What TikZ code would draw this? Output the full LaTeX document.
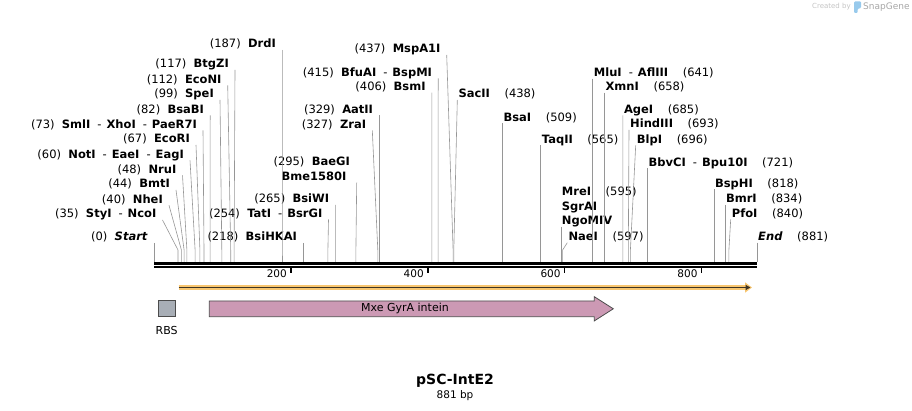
\documentclass[tikz,border=0pt]{standalone}
\usepackage{fontspec}
\setmainfont{DejaVu Sans}
\usetikzlibrary{arrows.meta, positioning}

\definecolor{cutgray}{RGB}{150,150,150}
\definecolor{orflight}{RGB}{248,198,112}
\definecolor{orfdark}{RGB}{62,52,36}
\definecolor{inteinpink}{RGB}{204,153,180}
\definecolor{rbsgray}{RGB}{168,174,182}
\definecolor{markgray}{RGB}{196,196,196}
\definecolor{markblue}{RGB}{152,202,236}

\newcommand{\enzsep}{\hspace{7pt}-\hspace{5pt}}

\begin{document}
\begin{tikzpicture}[
    x=1pt, y=-1pt,
    every node/.style={inner sep=0pt},
    lab/.style={font=\fontsize{11.5}{13}\selectfont},
    leftlab/.style={lab, anchor=base east},
    rightlab/.style={lab, anchor=base west},
    cut/.style={draw=cutgray, line width=0.6pt},
    seq/.style={line width=2.6pt},
    tick/.style={line width=1.4pt},
    ticklab/.style={font=\fontsize{10.5}{12}\selectfont, anchor=east}
]
\useasboundingbox (0,0) rectangle (912,411);

% ------------------------
% Watermark (top right)
% ------------------------
\node[anchor=west, text=markgray, font=\fontsize{7}{8}\selectfont] (made) at (812,7) {Created by};
\fill[markblue, rounded corners=1pt] (854,13) -- (854,1.5) -- (861,1.5) -- (861,8) -- (857.5,9) -- (857.5,13) -- cycle;
\node[anchor=west, text=markgray!85!black, font=\fontsize{9}{10}\selectfont] (snap) at (863,7) {SnapGene};

% ------------------------
% Sequence line and ruler
% ------------------------
\coordinate (s0) at (154,263.5);
\coordinate (s1) at (757,263.5);
\draw[seq] (s0) -- (s1);
\draw[seq] ([yshift=-3.7pt]s0) -- ([yshift=-3.7pt]s1);

\coordinate (t200) at (290.9,268.5);
\coordinate (t400) at (427.8,268.5);
\coordinate (t600) at (564.7,268.5);
\coordinate (t800) at (701.6,268.5);
\draw[tick] (t200) -- ++(0,5);
\draw[tick] (t400) -- ++(0,5);
\draw[tick] (t600) -- ++(0,5);
\draw[tick] (t800) -- ++(0,5);
\node[ticklab] (r200) at (287,273.5) {200};
\node[ticklab] (r400) at (423.9,273.5) {400};
\node[ticklab] (r600) at (560.8,273.5) {600};
\node[ticklab] (r800) at (697.7,273.5) {800};

% ------------------------
% Cut sites on the top strand
% ------------------------
\coordinate (c0) at (154,262);
\coordinate (c35) at (178,262);
\coordinate (c40) at (181.4,262);
\coordinate (c44) at (184.1,262);
\coordinate (c48) at (186.9,262);
\coordinate (c60) at (195.1,262);
\coordinate (c67) at (199.9,262);
\coordinate (c73) at (204,262);
\coordinate (c82) at (210.1,262);
\coordinate (c99) at (221.8,262);
\coordinate (c112) at (230.7,262);
\coordinate (c117) at (234.1,262);
\coordinate (c187) at (282,262);
\coordinate (c218) at (303.2,262);
\coordinate (c254) at (327.9,262);
\coordinate (c265) at (335.4,262);
\coordinate (c295) at (355.9,262);
\coordinate (c327) at (377.8,262);
\coordinate (c329) at (379.2,262);
\coordinate (c406) at (431.9,262);
\coordinate (c415) at (438.1,262);
\coordinate (c437) at (453.1,262);
\coordinate (c438) at (453.8,262);
\coordinate (c509) at (502.4,262);
\coordinate (c565) at (540.7,262);
\coordinate (c595) at (561.2,262);
\coordinate (c597) at (562.6,262);
\coordinate (c641) at (592.7,262);
\coordinate (c658) at (604.4,262);
\coordinate (c685) at (622.9,262);
\coordinate (c693) at (628.3,262);
\coordinate (c696) at (630.4,262);
\coordinate (c721) at (647.5,262);
\coordinate (c818) at (713.9,262);
\coordinate (c834) at (724.8,262);
\coordinate (c840) at (728.9,262);
\coordinate (c881) at (757,262);

% ------------------------
% Enzymes, labels on the left
% ------------------------
\node[leftlab] (start) at (148,241) {(0)~~\textbf{\textit{Start}}};
\node[leftlab] (styi) at (156.5,218) {(35)~~\textbf{StyI}\enzsep\textbf{NcoI}};
\node[leftlab] (nhei) at (163,203.3) {(40)~~\textbf{NheI}};
\node[leftlab] (bmti) at (170,188) {(44)~~\textbf{BmtI}};
\node[leftlab] (nrui) at (176.5,173.3) {(48)~~\textbf{NruI}};
\node[leftlab] (noti) at (184,158.3) {(60)~~\textbf{NotI}\enzsep\textbf{EaeI}\enzsep\textbf{EagI}};
\node[leftlab] (ecori) at (190,143) {(67)~~\textbf{EcoRI}};
\node[leftlab] (smli) at (197,128.3) {(73)~~\textbf{SmlI}\enzsep\textbf{XhoI}\enzsep\textbf{PaeR7I}};
\node[leftlab] (bsabi) at (204.2,113.3) {(82)~~\textbf{BsaBI}};
\node[leftlab] (spei) at (214,98) {(99)~~\textbf{SpeI}};
\node[leftlab] (econi) at (221.7,83.3) {(112)~~\textbf{EcoNI}};
\node[leftlab] (btgzi) at (229,68) {(117)~~\textbf{BtgZI}};
\node[leftlab] (drdi) at (276,48) {(187)~~\textbf{DrdI}};
\node[leftlab] (bsihkai) at (297.2,241) {(218)~~\textbf{BsiHKAI}};
\node[leftlab] (tati) at (322.5,217.5) {(254)~~\textbf{TatI}\enzsep\textbf{BsrGI}};
\node[leftlab] (bsiwi) at (329.3,203) {(265)~~\textbf{BsiWI}};
\node[leftlab] (baegi) at (350,165.7) {(295)~~\textbf{BaeGI}};
\node[leftlab] (bme) at (346.7,180.7) {\textbf{Bme1580I}};
\node[leftlab] (zrai) at (366.3,128.3) {(327)~~\textbf{ZraI}};
\node[leftlab] (aatii) at (373.2,113.3) {(329)~~\textbf{AatII}};
\node[leftlab] (bsmi) at (425.8,90.7) {(406)~~\textbf{BsmI}};
\node[leftlab] (bfuai) at (432.2,76.3) {(415)~~\textbf{BfuAI}\enzsep\textbf{BspMI}};
\node[leftlab] (mspa) at (440.7,53) {(437)~~\textbf{MspA1I}};

\draw[cut] ([shift={(6,2)}]start.base east) -- (c0);
\draw[cut] ([shift={(6,2)}]styi.base east) -- ([yshift=12pt]c35) -- (c35);
\draw[cut] ([shift={(6,2)}]nhei.base east) -- ([yshift=12pt]c40) -- (c40);
\draw[cut] ([shift={(6,2)}]bmti.base east) -- ([yshift=12pt]c44) -- (c44);
\draw[cut] ([shift={(6,2)}]nrui.base east) -- ([yshift=12pt]c48) -- (c48);
\draw[cut] ([shift={(6,2)}]noti.base east) -- ([yshift=12pt]c60) -- (c60);
\draw[cut] ([shift={(6,2)}]ecori.base east) -- ([yshift=12pt]c67) -- (c67);
\draw[cut] ([shift={(6,2)}]smli.base east) -- ([yshift=12pt]c73) -- (c73);
\draw[cut] ([shift={(6,2)}]bsabi.base east) -- ([yshift=12pt]c82) -- (c82);
\draw[cut] ([shift={(6,2)}]spei.base east) -- ([yshift=12pt]c99) -- (c99);
\draw[cut] ([shift={(6,2)}]econi.base east) -- ([yshift=12pt]c112) -- (c112);
\draw[cut] ([shift={(6,2)}]btgzi.base east) -- ([yshift=12pt]c117) -- (c117);
\draw[cut] ([shift={(6,2)}]drdi.base east) -- ([yshift=12pt]c187) -- (c187);
\draw[cut] ([shift={(6,2)}]bsihkai.base east) -- ([yshift=12pt]c218) -- (c218);
\draw[cut] ([shift={(6,2)}]tati.base east) -- ([yshift=12pt]c254) -- (c254);
\draw[cut] ([shift={(6,2)}]bsiwi.base east) -- ([yshift=12pt]c265) -- (c265);
\draw[cut] ([shift={(10,2)}]bme.base east) -- ([yshift=12pt]c295) -- (c295);
\draw[cut] ([shift={(6,2)}]zrai.base east) -- ([yshift=12pt]c327) -- (c327);
\draw[cut] ([shift={(6,2)}]aatii.base east) -- ([yshift=12pt]c329) -- (c329);
\draw[cut] ([shift={(6,2)}]bsmi.base east) -- ([yshift=12pt]c406) -- (c406);
\draw[cut] ([shift={(6,2)}]bfuai.base east) -- ([yshift=12pt]c415) -- (c415);
\draw[cut] ([shift={(6,2)}]mspa.base east) -- ([yshift=12pt]c437) -- (c437);

% ------------------------
% Enzymes, labels on the right
% ------------------------
\node[rightlab] (sacii) at (458.3,98) {\textbf{SacII}~~~~(438)};
\node[rightlab] (bsai) at (503.4,121.3) {\textbf{BsaI}~~~~(509)};
\node[rightlab] (taqii) at (541.7,143.3) {\textbf{TaqII}~~~~(565)};
\node[rightlab] (mlui) at (593.7,76.7) {\textbf{MluI}\enzsep\textbf{AflIII}~~~~(641)};
\node[rightlab] (xmni) at (605.4,90.7) {\textbf{XmnI}~~~~(658)};
\node[rightlab] (agei) at (623.8,113.3) {\textbf{AgeI}~~~~(685)};
\node[rightlab] (hind) at (630,128) {\textbf{HindIII}~~~~(693)};
\node[rightlab] (blpi) at (636.7,143.3) {\textbf{BlpI}~~~~(696)};
\node[rightlab] (bbvci) at (648.5,166.3) {\textbf{BbvCI}\enzsep\textbf{Bpu10I}~~~~(721)};
\node[rightlab] (mrei) at (561.7,195.7) {\textbf{MreI}~~~~(595)};
\node[rightlab] (sgrai) at (561.7,210.7) {\textbf{SgrAI}};
\node[rightlab] (ngomiv) at (561.7,225) {\textbf{NgoMIV}};
\node[rightlab] (naei) at (568.3,240.7) {\textbf{NaeI}~~~~(597)};
\node[rightlab] (bsphi) at (714.9,187.3) {\textbf{BspHI}~~~~(818)};
\node[rightlab] (bmri) at (725.8,203) {\textbf{BmrI}~~~~(834)};
\node[rightlab] (pfoi) at (731.7,217.3) {\textbf{PfoI}~~~~(840)};
\node[rightlab] (endl) at (758,240.7) {\textbf{\textit{End}}~~~~(881)};

\draw[cut] ([shift={(-1,2)}]sacii.base west) -- ([yshift=12pt]c438) -- (c438);
\draw[cut] ([shift={(-1,2)}]bsai.base west) -- ([yshift=12pt]c509) -- (c509);
\draw[cut] ([shift={(-1,2)}]taqii.base west) -- ([yshift=12pt]c565) -- (c565);
\draw[cut] ([shift={(-1,2)}]mlui.base west) -- ([yshift=12pt]c641) -- (c641);
\draw[cut] ([shift={(-1,2)}]xmni.base west) -- ([yshift=12pt]c658) -- (c658);
\draw[cut] ([shift={(-1,2)}]agei.base west) -- ([yshift=12pt]c685) -- (c685);
\draw[cut] ([shift={(-1,2)}]hind.base west) -- ([yshift=12pt]c693) -- (c693);
\draw[cut] ([shift={(-1,2)}]blpi.base west) -- ([yshift=12pt]c696) -- (c696);
\draw[cut] ([shift={(-1,2)}]bbvci.base west) -- ([yshift=12pt]c721) -- (c721);
\draw[cut] ([shift={(-0.5,2)}]ngomiv.base west) -- ([yshift=12pt]c595) -- (c595);
\draw[cut] ([shift={(-1,2)}]naei.base west) -- ([yshift=12pt]c597) -- (c597);
\draw[cut] ([shift={(-1,2)}]bsphi.base west) -- ([yshift=12pt]c818) -- (c818);
\draw[cut] ([shift={(-1,2)}]bmri.base west) -- ([yshift=12pt]c834) -- (c834);
\draw[cut] ([shift={(-1,2)}]pfoi.base west) -- ([yshift=12pt]c840) -- (c840);
\draw[cut] ([shift={(-1,2)}]endl.base west) -- (c881);

% ------------------------
% Features
% ------------------------
\coordinate (orf0) at (178.5,287.5);
\coordinate (orf1) at (752,287.5);
\draw[orflight, line width=4.6pt, -{Triangle[length=7pt, width=10pt]}] (orf0) -- (orf1);
\draw[orfdark, line width=1.5pt, -{Triangle[length=5pt, width=5pt]}] (orf0) -- ([xshift=-1.5pt]orf1);

\node[draw=black!70, fill=rbsgray, line width=0.8pt,
  minimum width=16.7pt, minimum height=16pt] (rbs) at (166.6,308.7) {};
\node[below=8.8pt of rbs, font=\fontsize{11}{13}\selectfont] (rbstxt) {RBS};

\draw[draw=black!70, fill=inteinpink, line width=0.8pt]
  (209.3,301) -- (594.3,301) -- (594.3,296.7) -- (613.3,308.8)
  -- (594.3,320.9) -- (594.3,316.7) -- (209.3,316.7) -- cycle;
\node[font=\fontsize{11}{13}\selectfont] (intein) at (405,308.8) {Mxe GyrA intein};

% ------------------------
% Title
% ------------------------
\node[font=\bfseries\fontsize{14}{16}\selectfont] (title) at (455,381) {pSC-IntE2};
\node[font=\fontsize{10.5}{12}\selectfont] (size) at (455,395.5) {881 bp};

\end{tikzpicture}
\end{document}
